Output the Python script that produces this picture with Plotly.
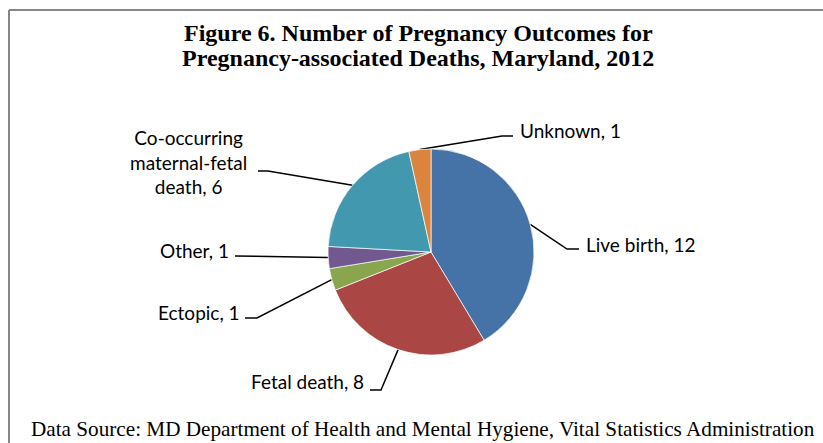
import math
import plotly.graph_objects as go

# ── data ─────────────────────────────────────────────────────────────────────
outcomes = ["Live birth", "Fetal death", "Ectopic", "Other",
            "Co-occurring maternal-fetal death", "Unknown"]
counts = [12, 8, 1, 1, 6, 1]
slice_colors = ["#4572A7", "#AA4643", "#89A54E", "#71588F", "#4198AF", "#DB843D"]

W, H = 823, 443
CX, CY, R = 431, 252, 103          # pie centre / radius in pixels

# label text position, anchor, elbow start + end of the leader line (pixels)
label_layout = {
    "Live birth":  dict(text="Live birth, 12", x=584, y=244, xanchor="left",
                        elbow=[(567, 249), (579, 249)]),
    "Fetal death": dict(text="Fetal death, 8", x=366, y=381, xanchor="right",
                        elbow=[(381, 390), (370, 390)]),
    "Ectopic":     dict(text="Ectopic, 1", x=242, y=312, xanchor="right",
                        elbow=[(257, 318), (245, 318)]),
    "Other":       dict(text="Other, 1", x=231, y=250, xanchor="right",
                        elbow=[(248, 256), (235, 256)]),
    "Co-occurring maternal-fetal death":
                   dict(text="Co-occurring<br>maternal-fetal<br>death, 6", x=188, y=162,
                        xanchor="center", elbow=[(268, 171), (258, 171)]),
    "Unknown":     dict(text="Unknown, 1", x=518, y=130, xanchor="left",
                        elbow=[(502, 136), (513, 136)]),
}

LABEL_FONT = dict(family="Lato, Noto Sans, sans-serif", size=19, color="#000000")
SERIF = "Liberation Serif, Times New Roman, serif"

fig = go.Figure()

fig.add_trace(go.Pie(
    labels=outcomes, values=counts,
    sort=False, direction="clockwise", rotation=0,
    marker=dict(colors=slice_colors, line=dict(color="#FFFFFF", width=0.7)),
    textinfo="none", hoverinfo="label+value",
    showlegend=False,
    domain=dict(x=[(CX - R) / W, (CX + R) / W],
                y=[(H - CY - R) / H, (H - CY + R) / H]),
))

# leader lines: from the middle of each slice's arc out to its label
total = sum(counts)
cum = 0
annotations = []
for name, v in zip(outcomes, counts):
    mid = (cum + v / 2) / total * 2 * math.pi
    cum += v
    ex, ey = CX + R * math.sin(mid), CY - R * math.cos(mid)
    lay = label_layout[name]
    pts = [(ex, ey)] + lay["elbow"]
    fig.add_trace(go.Scatter(
        x=[p[0] for p in pts], y=[p[1] for p in pts],
        mode="lines", line=dict(color="#000000", width=1.5),
        hoverinfo="skip", showlegend=False,
    ))
    annotations.append(dict(
        x=lay["x"], y=lay["y"], xref="x", yref="y", text=lay["text"],
        xanchor=lay["xanchor"], yanchor="middle", showarrow=False,
        font=LABEL_FONT, align="center",
    ))

title_lines = ["Figure 6. Number of Pregnancy Outcomes for",
               "Pregnancy-associated Deaths, Maryland, 2012"]
for i, line in enumerate(title_lines):
    annotations.append(dict(
        x=418, y=33 + 25 * i, xref="x", yref="y", showarrow=False,
        text=f"<b>{line}</b>", xanchor="center", yanchor="middle",
        font=dict(family=SERIF, size=24, color="#000000")))

annotations.append(dict(
    x=29, y=429, xref="x", yref="y", showarrow=False, xanchor="left", yanchor="middle",
    text="Data Source: MD Department of Health and Mental Hygiene, Vital Statistics Administration",
    font=dict(family=SERIF, size=21.2, color="#000000")))

# outer frame: only its top and left edges fall inside the window
frame = dict(color="#868686", width=2)
fig.update_layout(
    width=W, height=H,
    paper_bgcolor="#FFFFFF", plot_bgcolor="rgba(0,0,0,0)",
    margin=dict(t=0, b=0, l=0, r=0),
    xaxis=dict(range=[0, W], visible=False, fixedrange=True),
    yaxis=dict(range=[H, 0], visible=False, fixedrange=True),
    annotations=annotations,
    shapes=[
        dict(type="line", xref="x", yref="y", x0=9, y0=10, x1=W + 20, y1=10, line=frame),
        dict(type="line", xref="x", yref="y", x0=9, y0=10, x1=9, y1=H + 20, line=frame),
    ],
)

# drop the page's default body margin so the figure fills the window exactly
fig.write_html("out.html", config={"displayModeBar": False},
               post_script="document.body.style.margin='0';"
                           "document.body.style.overflow='hidden';")
